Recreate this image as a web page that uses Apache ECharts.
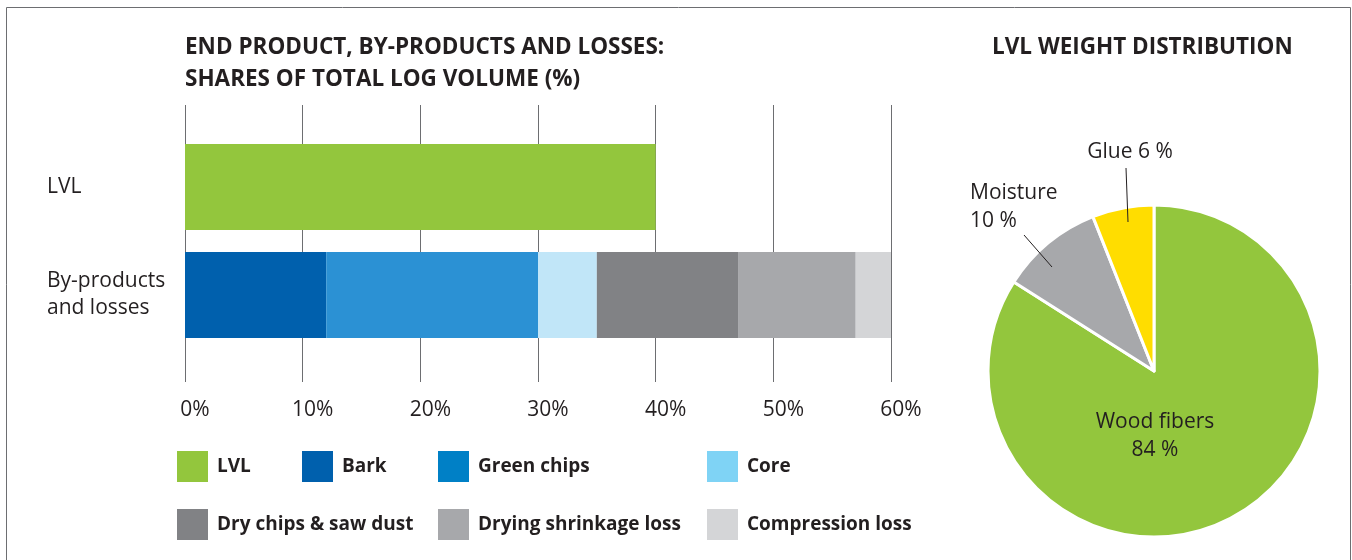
<!DOCTYPE html>
<html>
<head>
<meta charset="utf-8">
<script src="https://cdn.jsdelivr.net/npm/echarts@6/dist/echarts.min.js"></script>
<style>
html,body{margin:0;padding:0;background:#fff;}
#chart{width:1352px;height:560px;}
</style>
</head>
<body>
<div id="chart"></div>
<script>
// ---- data ----
const categories = ['LVL', 'By-products\nand losses'];
const productNames = ['LVL'];
const productValues = [40];
const byproductNames = ['Bark', 'Green chips', 'Core', 'Dry chips & saw dust', 'Drying shrinkage loss', 'Compression loss'];
const byproductValues = [12, 18, 5, 12, 10, 3];
const xTicks = [0, 10, 20, 30, 40, 50, 60];
const pieNames = ['Wood fibers', 'Moisture', 'Glue'];
const pieValues = [84, 10, 6];

// ---- styles ----
const FONT = '"Open Sans", "Noto Sans", sans-serif';
const TXT = '#231F20';
const barColors = {
  'LVL': '#93C63D', 'Bark': '#0060AD', 'Green chips': '#2B91D4', 'Core': '#C1E6F8',
  'Dry chips & saw dust': '#818285', 'Drying shrinkage loss': '#A7A8AB', 'Compression loss': '#D4D5D7'
};
const legendColors = Object.assign({}, barColors, {'Green chips': '#0080C6', 'Core': '#7FD3F5'});
const pieColors = ['#93C63D', '#A7A8AB', '#FFDD00'];
const legendPos = {
  'LVL': [177, 451], 'Bark': [302, 451], 'Green chips': [438, 451], 'Core': [707, 451],
  'Dry chips & saw dust': [177, 509], 'Drying shrinkage loss': [438, 509], 'Compression loss': [707, 509]
};

const chart = echarts.init(document.getElementById('chart'), null, {renderer: 'canvas'});

const series = [];
productNames.forEach((n, i) => {
  series.push({name: n, type: 'bar', stack: 'total', xAxisIndex: 1, yAxisIndex: 1, barWidth: 86,
    itemStyle: {color: barColors[n]}, data: [productValues[i], null]});
});
byproductNames.forEach((n, i) => {
  series.push({name: n, type: 'bar', stack: 'total', xAxisIndex: 1, yAxisIndex: 1, barWidth: 86,
    itemStyle: {color: barColors[n]}, data: [null, byproductValues[i]]});
});

const pieData = pieNames.map((n, i) => {
  const item = {name: n, value: pieValues[i], itemStyle: {color: pieColors[i]}};
  if (i === 0) { item.label = {position: 'inside'}; }
  return item;
});
const PC = [1154, 371];
series.push({
  type: 'pie', center: PC, radius: 166, startAngle: 90, clockwise: true, silent: true,
  itemStyle: {borderColor: '#fff', borderWidth: 3},
  label: {
    show: true, color: TXT, fontFamily: FONT, fontSize: 21, lineHeight: 28,
    formatter: p => p.dataIndex === 2 ? p.name + ' ' + p.value + ' %' : p.name + '\n' + p.value + ' %'
  },
  labelLine: {show: false},
  labelLayout: function (p) {
    if (p.dataIndex === 0) return {x: PC[0] + 1, y: PC[1] + 65, align: 'center', verticalAlign: 'middle'};
    if (p.dataIndex === 1) return {x: 970, y: 207, align: 'left', verticalAlign: 'middle'};
    return {x: 1130, y: 152, align: 'center', verticalAlign: 'middle'};
  },
  data: pieData
});
// empty series for the line grid
series.push({type: 'line', xAxisIndex: 0, yAxisIndex: 0, data: [], silent: true});

const allNames = productNames.concat(byproductNames);
const legends = allNames.map(n => ({
  data: [{name: n, itemStyle: {color: legendColors[n]}}],
  left: legendPos[n][0], top: legendPos[n][1], padding: 0,
  itemWidth: 31, itemHeight: 31, icon: 'rect', selectedMode: false,
  textStyle: {fontFamily: FONT, fontWeight: 'bold', fontSize: 19, color: TXT, padding: [0, 0, 0, 4]}
}));

// leader lines for the pie's outside labels (annotation, relative to pie centre)
const leaderLines = [
  [[PC[0] - 130, PC[1] - 136], [PC[0] - 102, PC[1] - 104]],
  [[PC[0] - 28, PC[1] - 203], [PC[0] - 26, PC[1] - 149]]
].map(pts => ({type: 'polyline', silent: true, z: 100, shape: {points: pts},
  style: {stroke: TXT, lineWidth: 1, fill: null}}));

chart.setOption({
  animation: false,
  backgroundColor: '#fff',
  title: [
    {text: 'END PRODUCT, BY-PRODUCTS AND LOSSES:\nSHARES OF TOTAL LOG VOLUME (%)', left: 185, top: 32, padding: 0,
      textStyle: {fontFamily: FONT, fontWeight: 'bold', fontSize: 22.5, lineHeight: 32, color: TXT}},
    {text: 'LVL WEIGHT DISTRIBUTION', left: 992, top: 32, padding: 0,
      textStyle: {fontFamily: FONT, fontWeight: 'bold', fontSize: 22.5, lineHeight: 32, color: TXT}}
  ],
  legend: legends,
  grid: [
    {left: 185, width: 706, top: 105, height: 277},
    {left: 185, width: 706, top: 133, height: 216}
  ],
  xAxis: [
    {gridIndex: 0, type: 'value', min: 0, max: 60, interval: 10, position: 'bottom',
      axisLine: {show: false}, axisTick: {show: false},
      splitLine: {show: true, lineStyle: {color: '#6D6E71', width: 1}},
      axisLabel: {formatter: '{value}%', fontFamily: FONT, fontSize: 21, color: TXT, margin: 18,
        padding: [0, 0, 0, 20], showMinLabel: true, showMaxLabel: true}},
    {gridIndex: 1, type: 'value', min: 0, max: 60, interval: 10, show: false, splitLine: {show: false}}
  ],
  yAxis: [
    {gridIndex: 0, type: 'category', data: categories, show: false},
    {gridIndex: 1, type: 'category', data: categories, inverse: true,
      axisLine: {show: false}, axisTick: {show: false}, splitLine: {show: false},
      axisLabel: {align: 'left', margin: 138, fontFamily: FONT, fontSize: 21, lineHeight: 27, color: TXT}}
  ],
  graphic: [
    {type: 'rect', silent: true, z: -10, shape: {x: 6.5, y: 7.5, width: 1344, height: 600},
      style: {fill: null, stroke: '#6D6E71', lineWidth: 1}}
  ].concat(leaderLines),
  series: series
});
</script>
</body>
</html>
